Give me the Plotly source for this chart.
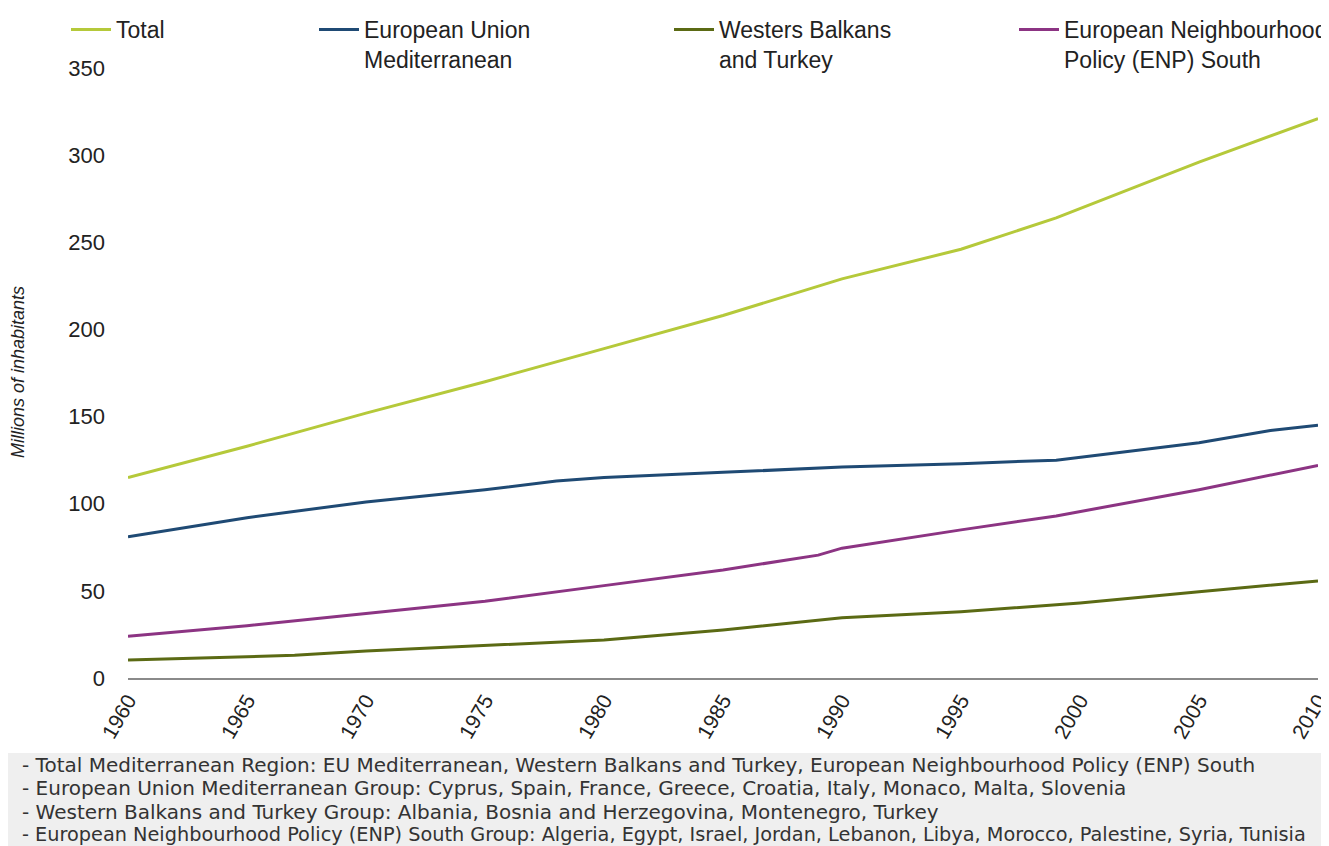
import plotly.graph_objects as go

# ---- data (millions of inhabitants) ----
years_total = [1960, 1965, 1970, 1975, 1980, 1985, 1990, 1995, 1999, 2005, 2010]
total = [115, 133, 152, 170, 189, 208, 229, 246, 264, 296, 321]

years_eu = [1960, 1965, 1970, 1975, 1978, 1980, 1985, 1990, 1995, 1999, 2005, 2008, 2010]
eu_med = [81, 92, 101, 108, 113, 115, 118, 121, 123, 125, 135, 142, 145]

years_wb = [1960, 1965, 1967, 1970, 1975, 1980, 1985, 1990, 1995, 2000, 2005, 2010]
wb_turkey = [10.3, 12.5, 13, 15.5, 18.5, 21.8, 27.5, 34.5, 38, 43, 49.5, 55.7]

years_enp = [1960, 1965, 1970, 1975, 1980, 1985, 1989, 1990, 1995, 1999, 2005, 2010]
enp_south = [24, 30, 37, 44, 53, 62, 70.5, 74.5, 85, 93, 108, 122]

tick_years = [1960, 1965, 1970, 1975, 1980, 1985, 1990, 1995, 2000, 2005, 2010]
y_ticks = [0, 50, 100, 150, 200, 250, 300, 350]

footnotes = [
    "- Total Mediterranean Region: EU Mediterranean, Western Balkans and Turkey, European Neighbourhood Policy (ENP) South",
    "- European Union Mediterranean Group: Cyprus, Spain, France, Greece, Croatia, Italy, Monaco, Malta, Slovenia",
    "- Western Balkans and Turkey Group: Albania, Bosnia and Herzegovina, Montenegro, Turkey",
    "- European Neighbourhood Policy (ENP) South Group: Algeria, Egypt, Israel, Jordan, Lebanon, Libya, Morocco, Palestine, Syria, Tunisia",
]
footnote_sizes = [20, 20, 20, 19.3]

series = [
    ("Total", years_total, total, "#b5c93a", "legend"),
    ("European Union<br>Mediterranean", years_eu, eu_med, "#1f4a74", "legend2"),
    ("Westers Balkans<br>and Turkey", years_wb, wb_turkey, "#5b6a14", "legend3"),
    ("European Neighbourhood<br>Policy (ENP) South", years_enp, enp_south, "#8c3483", "legend4"),
]

FONT = "Liberation Sans, Arial, sans-serif"
OFF = 8  # page body margin
W, H = 1329, 846
L, T = 120, 60
pw, ph = 1190, 610
R = W - L - pw
B = H - T - ph

def sx(p):
    return (p - OFF - L) / pw

def sy(p):
    return (OFF + T + ph - p) / ph

fig = go.Figure()
for name, xs, ys, col, lg in series:
    fig.add_trace(go.Scatter(x=xs, y=ys, mode="lines", name=name,
                             line=dict(color=col, width=3), legend=lg))

legend_common = dict(orientation="v", yanchor="top", xanchor="left", valign="top",
                     font=dict(family=FONT, size=23, color="#222"),
                     bgcolor="rgba(0,0,0,0)", tracegroupgap=0, itemwidth=40)
legend_x = [66, 314, 669, 1014]
legend_y = 8
fig.update_layout(
    legend=dict(x=sx(legend_x[0]), y=sy(legend_y), **legend_common),
    legend2=dict(x=sx(legend_x[1]), y=sy(legend_y), **legend_common),
    legend3=dict(x=sx(legend_x[2]), y=sy(legend_y), **legend_common),
    legend4=dict(x=sx(legend_x[3]), y=sy(legend_y), **legend_common),
)

# footnote box
fig.add_shape(type="rect", xref="paper", yref="paper",
              x0=sx(8), x1=sx(1345), y0=sy(870), y1=sy(753),
              fillcolor="#efefef", line=dict(width=0), layer="below")
for i, (txt, fs) in enumerate(zip(footnotes, footnote_sizes)):
    fig.add_annotation(text=txt, xref="paper", yref="paper", x=sx(20), y=sy(765 + 23.3 * i),
                       xanchor="left", yanchor="middle", showarrow=False,
                       font=dict(family="DejaVu Sans, sans-serif", size=fs, color="#333"))

fig.add_annotation(text="<i>Millions of inhabitants</i>", xref="paper", yref="paper",
                   x=sx(18), y=sy(372), textangle=-90, xanchor="center", yanchor="middle",
                   showarrow=False, font=dict(family=FONT, size=18, color="#222"))

fig.update_layout(
    width=W, height=H,
    margin=dict(l=L, r=R, t=T, b=B, autoexpand=False),
    paper_bgcolor="white", plot_bgcolor="white",
    showlegend=True,
    font=dict(family=FONT, color="#222"),
    xaxis=dict(range=[1960, 2010], tickvals=tick_years, ticktext=[str(y) for y in tick_years],
               tickangle=-60, showgrid=False, zeroline=False, showline=True,
               linecolor="#8a8a8a", linewidth=2, ticks="", ticklabeloverflow="allow",
               tickfont=dict(family=FONT, size=21, color="#222")),
    yaxis=dict(range=[0, 350], tickvals=y_ticks, showgrid=False, zeroline=False,
               showline=False, ticks="", ticklabelstandoff=22,
               tickfont=dict(family=FONT, size=22, color="#222")),
)

fig.write_html("out.html")
